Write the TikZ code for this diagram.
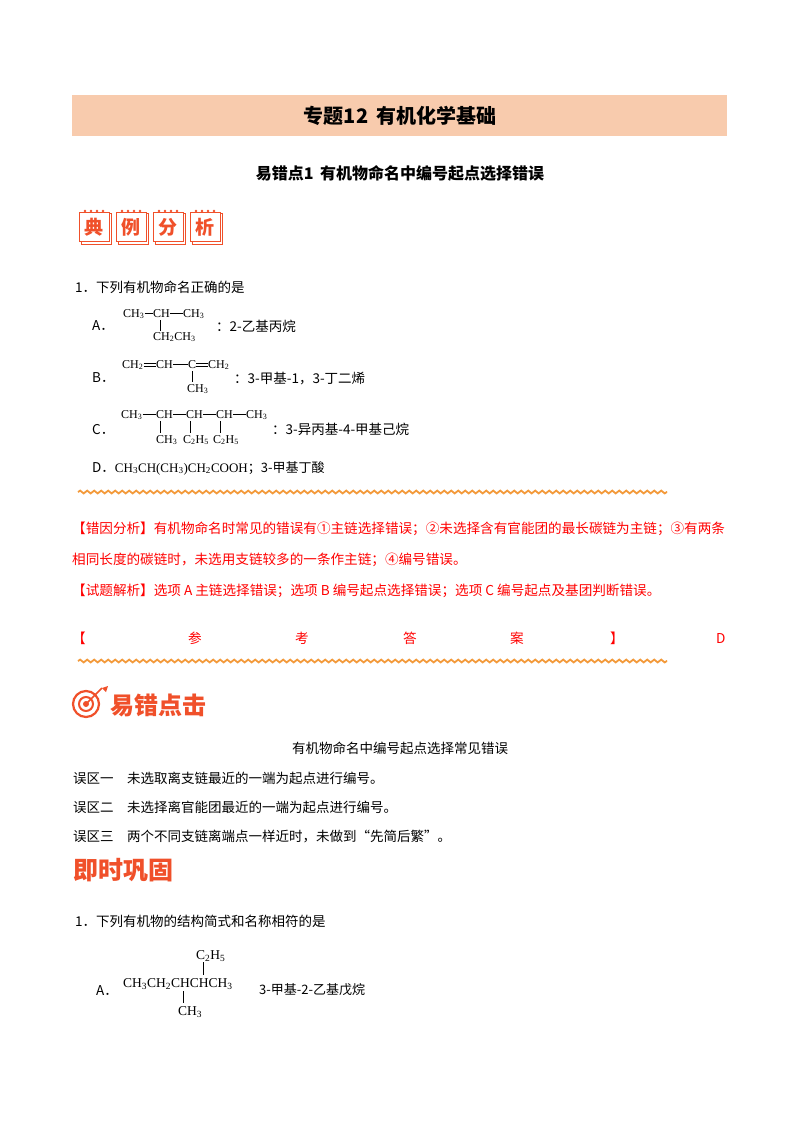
\documentclass[tikz,border=0pt]{standalone}
\usepackage{fontspec}
\setmainfont{Liberation Serif}
\newfontfamily\cjk{Noto Sans CJK SC}
\newfontfamily\cjkb{Noto Sans CJK SC Black}
\usetikzlibrary{decorations.pathmorphing}
\definecolor{peach}{HTML}{F8CBAD}
\definecolor{myred}{HTML}{FF0000}
\definecolor{icon}{HTML}{F0502A}
\definecolor{wave}{HTML}{F39A3B}
\begin{document}
\begin{tikzpicture}[x=1pt,y=-1pt,
  body/.style={anchor=base west,inner sep=0pt,font=\cjk\fontsize{13.5}{15}\selectfont},
  chem/.style={anchor=base west,inner sep=0pt,font=\fontsize{12}{13}\selectfont},
  bond/.style={line width=0.6pt},
  redt/.style={anchor=base west,inner sep=0pt,text=myred,font=\cjk\fontsize{13.6}{15}\selectfont},
  wavy/.style={wave,line width=1.8pt,decorate,decoration={snake,segment length=7pt,amplitude=1.4pt}},
  card/.style={draw=icon,line width=1pt,fill=white,minimum width=30pt,minimum height=29pt,inner sep=0pt,text=icon,font=\cjkb\fontsize{19}{20}\selectfont}]
\useasboundingbox (0,0) rectangle (800,1132);
\fill[white] (0,0) rectangle (800,1132);
% title
\fill[peach] (72,95) rectangle (727,136);
\node[inner sep=0pt,font=\cjk\bfseries\fontsize{20}{22}\selectfont] (title) at (400,116) {专题12\, 有机化学基础};
\node[inner sep=0pt,font=\cjk\bfseries\fontsize{16}{18}\selectfont] (sub) at (400,173) {易错点1\, 有机物命名中编号起点选择错误};
% icon cards
\foreach \x/\c [count=\i] in {94/典,131/例,168/分,205/析}{
  \draw[icon,line width=0.8pt] (\x-13,213) rectangle (\x+17,244);
  \node[card] (card\i) at (\x,227) {\c};
  \foreach \d in {-9,-3,3,9} \fill[icon] (\x+\d,211) circle (1.3pt);
}
\node[body] (q1) at (75,292) {1．下列有机物命名正确的是};
% A
\node[body] (la) at (92,330) {A．};
\node[chem] (a1) at (123,317) {CH\textsubscript{3}};
\node[chem] (a2) at (153,317) {CH};
\node[chem] (a3) at (183,317) {CH\textsubscript{3}};
\node[chem] (a4) at (153,340) {CH\textsubscript{2}CH\textsubscript{3}};
\draw[bond] (a1.east|-0,313) -- (a2.west|-0,313);
\draw[bond] (a2.east|-0,313) -- (a3.west|-0,313);
\draw[bond] (160,320) -- (160,331);
\node[body] (na) at (216,331) {：2-乙基丙烷};
% B
\node[body] (lb) at (92,382) {B．};
\node[chem] (b1) at (122,368) {CH\textsubscript{2}};
\node[chem] (b2) at (156,368) {CH};
\node[chem] (b3) at (188,368) {C};
\node[chem] (b4) at (208,368) {CH\textsubscript{2}};
\node[chem] (b5) at (187,392) {CH\textsubscript{3}};
\draw[bond] (b1.east|-0,363) -- (b2.west|-0,363);
\draw[bond] (b1.east|-0,366) -- (b2.west|-0,366);
\draw[bond] (b2.east|-0,364.5) -- (b3.west|-0,364.5);
\draw[bond] (b3.east|-0,363) -- (b4.west|-0,363);
\draw[bond] (b3.east|-0,366) -- (b4.west|-0,366);
\draw[bond] (192,371) -- (192,382);
\node[body] (nb) at (234,383) {：3-甲基-1，3-丁二烯};
% C
\node[body] (lc) at (92,434) {C．};
\node[chem] (c1) at (121,418) {CH\textsubscript{3}};
\node[chem] (c2) at (156,418) {CH};
\node[chem] (c3) at (186,418) {CH};
\node[chem] (c4) at (216,418) {CH};
\node[chem] (c5) at (246,418) {CH\textsubscript{3}};
\node[chem] (c6) at (156,443) {CH\textsubscript{3}};
\node[chem] (c7) at (183,443) {C\textsubscript{2}H\textsubscript{5}};
\node[chem] (c8) at (213,443) {C\textsubscript{2}H\textsubscript{5}};
\draw[bond] (c1.east|-0,414) -- (c2.west|-0,414);
\draw[bond] (c2.east|-0,414) -- (c3.west|-0,414);
\draw[bond] (c3.east|-0,414) -- (c4.west|-0,414);
\draw[bond] (c4.east|-0,414) -- (c5.west|-0,414);
\draw[bond] (160,421) -- (160,433);
\draw[bond] (190,421) -- (190,433);
\draw[bond] (220,421) -- (220,433);
\node[body] (nc) at (272,434) {：3-异丙基-4-甲基己烷};
% D
\node[body] (ld) at (92,472) {D．\fontspec{Liberation Serif}\fontsize{13}{15}\selectfont CH\textsubscript{3}CH(CH\textsubscript{3})CH\textsubscript{2}COOH\cjk；3-甲基丁酸};
\draw[wavy] (78,492) -- (667,492);
% red
\node[redt] (r1) at (72,533) {【错因分析】有机物命名时常见的错误有①主链选择错误；②未选择含有官能团的最长碳链为主链；③有两条};
\node[redt] (r2) at (72,564) {相同长度的碳链时，未选用支链较多的一条作主链；④编号错误。};
\node[redt] (r3) at (72,595) {【试题解析】选项 A 主链选择错误；选项 B 编号起点选择错误；选项 C 编号起点及基团判断错误。};
\foreach \x/\t [count=\i] in {72/【,188/参,295/考,403/答,510/案,610/】,716/D}
  \node[redt] (ans\i) at (\x,643) {\t};
\draw[wavy] (78,661) -- (667,661);
% icon 2
\draw[icon,line width=2.2pt] (86,704) circle (13pt);
\draw[icon,line width=2pt] (86,704) circle (7pt);
\fill[icon] (86,704) circle (3pt);
\draw[icon,line width=1.6pt] (86,704) -- (102,688);
\fill[icon] (102,688) -- (108,686) -- (106,692) -- cycle;
\node[inner sep=0pt,anchor=west,text=icon,font=\cjkb\fontsize{24}{26}\selectfont] (ic2) at (110,705) {易错点击};
\node[inner sep=0pt,font=\cjk\fontsize{13.5}{15}\selectfont] (cap) at (400,748) {有机物命名中编号起点选择常见错误};
\node[body] (w1) at (73,783) {误区一\quad 未选取离支链最近的一端为起点进行编号。};
\node[body] (w2) at (73,812) {误区二\quad 未选择离官能团最近的一端为起点进行编号。};
\node[body] (w3) at (73,841) {误区三\quad 两个不同支链离端点一样近时，未做到“先简后繁”。};
\node[inner sep=0pt,anchor=west,text=icon,font=\cjkb\fontsize{25}{27}\selectfont] (ic3) at (73,870) {即时巩固};
\node[body] (q2) at (75,926) {1．下列有机物的结构简式和名称相符的是};
\node[body] (qa) at (96,995) {A．};
\node[chem,font=\fontsize{13.5}{14}\selectfont] (m1) at (123,987) {CH\textsubscript{3}CH\textsubscript{2}CHCHCH\textsubscript{3}};
\node[chem,font=\fontsize{13.5}{14}\selectfont] (m2) at (196,959) {C\textsubscript{2}H\textsubscript{5}};
\node[chem,font=\fontsize{13.5}{14}\selectfont] (m3) at (178,1015) {CH\textsubscript{3}};
\draw[bond] (203,962) -- (203,975);
\draw[bond] (183,991) -- (183,1003);
\node[body,font=\cjk\fontsize{13}{15}\selectfont] (qn) at (259,994) {3-甲基-2-乙基戊烷};
\end{tikzpicture}
\end{document}
